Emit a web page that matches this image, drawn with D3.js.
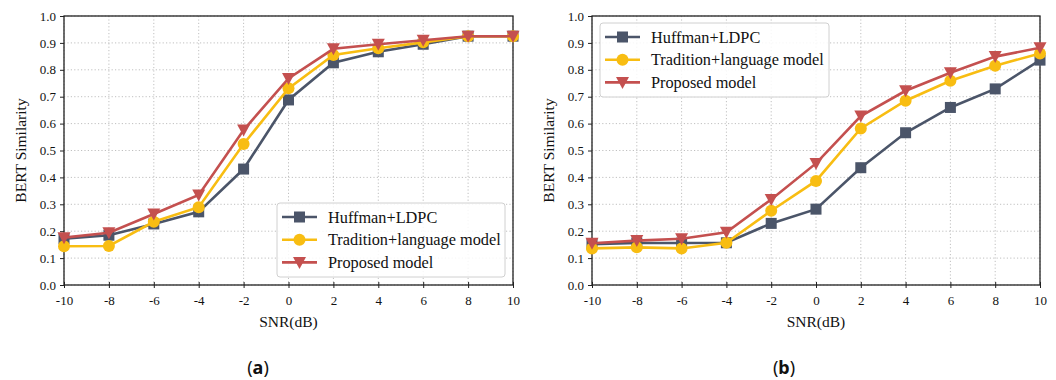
<!DOCTYPE html>
<html>
<head>
<meta charset="utf-8">
<script src="https://cdn.jsdelivr.net/npm/d3@7"></script>
<style>
  body { margin: 0; background: #fff; }
  svg { display: block; }
</style>
</head>
<body>
<div id="chart"></div>
<script>
// SNR values shared by both panels
const snr = [-10, -8, -6, -4, -2, 0, 2, 4, 6, 8, 10];
const yTicks = [0.0, 0.1, 0.2, 0.3, 0.4, 0.5, 0.6, 0.7, 0.8, 0.9, 1.0];
const xTicks = [-10, -8, -6, -4, -2, 0, 2, 4, 6, 8, 10];

const seriesNames = ["Huffman+LDPC", "Tradition+language model", "Proposed model"];
const seriesColors = ["#4b5569", "#f8bd12", "#c4504f"];
const seriesMarkers = ["square", "circle", "triangle"];

// panel (a)
const huffmanA = [0.172, 0.185, 0.227, 0.272, 0.431, 0.688, 0.826, 0.867, 0.895, 0.925, 0.925];
const traditionA = [0.144, 0.145, 0.235, 0.289, 0.524, 0.731, 0.855, 0.880, 0.902, 0.925, 0.925];
const proposedA = [0.176, 0.194, 0.264, 0.335, 0.576, 0.768, 0.878, 0.895, 0.910, 0.925, 0.925];

// panel (b)
const huffmanB = [0.152, 0.156, 0.156, 0.157, 0.229, 0.282, 0.436, 0.566, 0.660, 0.729, 0.836];
const traditionB = [0.136, 0.140, 0.136, 0.157, 0.276, 0.387, 0.582, 0.685, 0.759, 0.815, 0.861];
const proposedB = [0.155, 0.165, 0.172, 0.196, 0.318, 0.452, 0.628, 0.722, 0.789, 0.849, 0.882];

const svg = d3.select("#chart").append("svg").attr("width", 1056).attr("height", 380);

const serif = "Liberation Serif, Times New Roman, serif";

function drawMarker(g, type, x, y, color) {
    if (type === "square") {
        g.append("rect").attr("x", x - 5.5).attr("y", y - 5.5)
            .attr("width", 11).attr("height", 11).attr("fill", color);
    } else if (type === "circle") {
        g.append("circle").attr("cx", x).attr("cy", y).attr("r", 6).attr("fill", color);
    } else {
        g.append("path")
            .attr("d", `M${x - 6.5},${y - 5.5}L${x + 6.5},${y - 5.5}L${x},${y + 6.5}Z`)
            .attr("fill", color);
    }
}

function createPanel(left, right, series, legendPos, label, labelX) {
    const top = 16, bottom = 285;
    const x = d3.scaleLinear().domain([-10, 10]).range([left, right]);
    const y = d3.scaleLinear().domain([0, 1]).range([bottom, top]);
    const g = svg.append("g");

    // grid
    g.selectAll(".gx").data(xTicks).enter().append("line")
        .attr("x1", d => x(d)).attr("x2", d => x(d))
        .attr("y1", top).attr("y2", bottom)
        .attr("stroke", "#b0b0b0").attr("stroke-width", 0.8).attr("stroke-dasharray", "1.2,2.2");
    g.selectAll(".gy").data(yTicks).enter().append("line")
        .attr("x1", left).attr("x2", right)
        .attr("y1", d => y(d)).attr("y2", d => y(d))
        .attr("stroke", "#b0b0b0").attr("stroke-width", 0.8).attr("stroke-dasharray", "1.2,2.2");

    // axes
    const xAxis = g.append("g").attr("transform", `translate(0,${bottom})`)
        .call(d3.axisBottom(x).tickValues(xTicks).tickFormat(d3.format("d")).tickSize(3).tickPadding(8));
    xAxis.selectAll(".tick line").attr("y1", -3).attr("y2", 3);
    const yAxis = g.append("g").attr("transform", `translate(${left},0)`)
        .call(d3.axisLeft(y).tickValues(yTicks).tickFormat(d3.format(".1f")).tickSize(4).tickPadding(4));
    [xAxis, yAxis].forEach(a => {
        a.attr("font-family", serif).attr("font-size", 13);
        a.select(".domain").remove();
        a.selectAll(".tick line").attr("stroke", "#222").attr("stroke-width", 1);
        a.selectAll("text").attr("fill", "#111");
    });
    xAxis.selectAll("text").text(d => d < 0 ? "-" + Math.abs(d) : d);

    // frame
    g.append("rect").attr("x", left).attr("y", top)
        .attr("width", right - left).attr("height", bottom - top)
        .attr("fill", "none").attr("stroke", "#222").attr("stroke-width", 1.3);

    // lines and markers
    const line = d3.line().x((d, i) => x(snr[i])).y(d => y(d));
    series.forEach((vals, k) => {
        g.append("path").datum(vals).attr("d", line)
            .attr("fill", "none").attr("stroke", seriesColors[k]).attr("stroke-width", 2.6);
        vals.forEach((v, i) => drawMarker(g, seriesMarkers[k], x(snr[i]), y(v), seriesColors[k]));
    });

    // axis labels
    g.append("text").attr("x", (left + right) / 2).attr("y", 327)
        .attr("text-anchor", "middle").attr("font-family", serif).attr("font-size", 15.5)
        .attr("fill", "#111").text("SNR(dB)");
    g.append("text").attr("transform", `translate(${left - 38},${(top + bottom) / 2}) rotate(-90)`)
        .attr("text-anchor", "middle").attr("font-family", serif).attr("font-size", 15.5)
        .attr("fill", "#111").text("BERT Similarity");

    // legend
    const lg = g.append("g");
    lg.append("rect").attr("x", legendPos[0]).attr("y", legendPos[1])
        .attr("width", legendPos[2]).attr("height", 74).attr("rx", 3)
        .attr("fill", "#fff").attr("fill-opacity", 0.85)
        .attr("stroke", "#d0d0d0").attr("stroke-width", 1);
    seriesNames.forEach((name, k) => {
        const ly = legendPos[1] + 14 + k * 22.7;
        const lx = legendPos[0] + 5;
        lg.append("line").attr("x1", lx).attr("x2", lx + 35).attr("y1", ly).attr("y2", ly)
            .attr("stroke", seriesColors[k]).attr("stroke-width", 2.6);
        drawMarker(lg, seriesMarkers[k], lx + 17.5, ly, seriesColors[k]);
        lg.append("text").attr("x", lx + 46).attr("y", ly + 5.5)
            .attr("font-family", serif).attr("font-size", 16.3).attr("fill", "#111").text(name);
    });

    // panel label
    const t = g.append("text").attr("x", labelX).attr("y", 374)
        .attr("text-anchor", "middle").attr("font-family", "Noto Sans, Open Sans, sans-serif")
        .attr("font-size", 18).attr("fill", "#111");
    t.append("tspan").text("(");
    t.append("tspan").attr("font-weight", "bold").text(label);
    t.append("tspan").text(")");
}

createPanel(64, 513, [huffmanA, traditionA, proposedA], [277, 203, 228], "a", 258);
createPanel(592, 1040, [huffmanB, traditionB, proposedB], [600, 23, 229], "b", 784);
</script>
</body>
</html>
